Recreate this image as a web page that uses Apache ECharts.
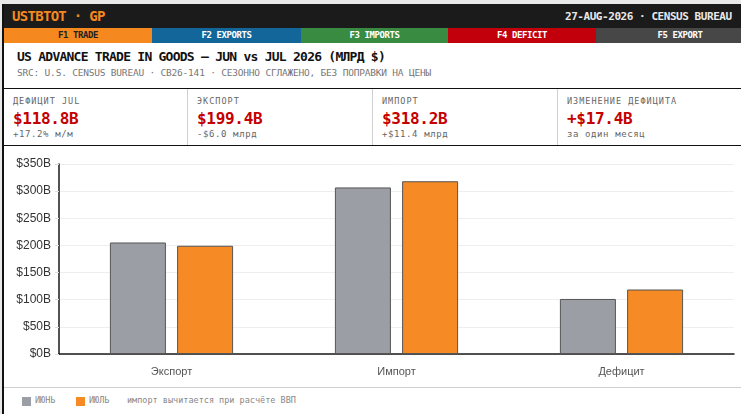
<!DOCTYPE html>
<html>
<head>
<meta charset="utf-8">
<script src="https://cdn.jsdelivr.net/npm/echarts@6/dist/echarts.min.js"></script>
<style>
  html, body { margin:0; padding:0; width:741px; height:414px; overflow:hidden; background:#e9e9e9; }
  .mono { font-family: "DejaVu Sans Mono", "Liberation Mono", monospace; }
  #wrap { position:absolute; left:2px; top:4px; width:760px; height:420px; background:#fff; border-left:2px solid #111; }
  .abs { position:absolute; white-space:nowrap; }
  #hdr { position:absolute; left:0; top:0; width:760px; height:24px; background:#1b1b1b; }
  #tabs { position:absolute; left:0; top:24px; width:760px; height:15px; }
  .tab { position:absolute; top:0; height:15px; line-height:15px; text-align:center; font-size:9px; font-weight:bold; color:#fff; letter-spacing:-0.4px; }
  #kpi { position:absolute; left:0; top:84px; width:760px; height:56px; border-top:1.5px solid #111; border-bottom:1.5px solid #111; }
  .card { position:absolute; top:0; height:56px; }
  .card .lab { position:absolute; left:9px; top:7px; font-size:8.5px; color:#666; letter-spacing:1px; }
  .card .val { position:absolute; left:9px; top:20px; font-size:16px; font-weight:bold; color:#c40000; letter-spacing:-0.3px; }
  .card .sub { position:absolute; left:9px; top:40px; font-size:9px; color:#666; letter-spacing:0.6px; }
  #chart { position:absolute; left:0; top:142px; width:737px; height:241px; }
  #foot { position:absolute; left:0; top:383px; width:760px; height:30px; border-top:1px solid #cfcfcf; }
  .sq { position:absolute; width:9px; height:9px; top:9px; }
  .ft { position:absolute; top:7px; font-size:8.5px; color:#888; }
</style>
</head>
<body>
<div id="wrap" class="mono">
  <div id="hdr">
    <div class="abs" style="left:8px; top:4px; font-size:14px; font-weight:bold; color:#f5891f; letter-spacing:-0.7px;">USTBTOT · GP</div>
    <div class="abs" style="left:561px; top:6px; font-size:11px; font-weight:bold; color:#e8e8e8; letter-spacing:-0.45px;">27-AUG-2026 · CENSUS BUREAU</div>
  </div>
  <div id="tabs">
    <div class="tab" style="left:0; width:148px; background:#f5891f; color:#222;">F1 TRADE</div>
    <div class="tab" style="left:148px; width:149px; background:#13669a;">F2 EXPORTS</div>
    <div class="tab" style="left:297px; width:147px; background:#3a8b42;">F3 IMPORTS</div>
    <div class="tab" style="left:444px; width:148px; background:#c1000c;">F4 DEFICIT</div>
    <div class="tab" style="left:592px; width:168px; background:#474747;">F5 EXPORT</div>
  </div>
  <div class="abs" style="left:13px; top:45px; font-size:13px; font-weight:bold; color:#111; letter-spacing:-0.75px;">US ADVANCE TRADE IN GOODS — JUN vs JUL 2026 (МЛРД $)</div>
  <div class="abs" style="left:13px; top:63px; font-size:9.5px; color:#777; letter-spacing:-0.2px;">SRC: U.S. CENSUS BUREAU · CB26-141 · СЕЗОННО СГЛАЖЕНО, БЕЗ ПОПРАВКИ НА ЦЕНЫ</div>
  <div id="kpi">
    <div class="card" style="left:0; width:183px; border-right:1px solid #d0d0d0;">
      <div class="lab">ДЕФИЦИТ JUL</div><div class="val">$118.8B</div><div class="sub">+17.2% м/м</div>
    </div>
    <div class="card" style="left:184px; width:184px; border-right:1px solid #d0d0d0;">
      <div class="lab">ЭКСПОРТ</div><div class="val">$199.4B</div><div class="sub">-$6.0 млрд</div>
    </div>
    <div class="card" style="left:369px; width:184px; border-right:1px solid #d0d0d0;">
      <div class="lab">ИМПОРТ</div><div class="val">$318.2B</div><div class="sub">+$11.4 млрд</div>
    </div>
    <div class="card" style="left:554px; width:200px;">
      <div class="lab">ИЗМЕНЕНИЕ ДЕФИЦИТА</div><div class="val">+$17.4B</div><div class="sub">за один месяц</div>
    </div>
  </div>
  <div id="chart"></div>
  <div id="foot">
    <div class="sq" style="left:18px; background:#9b9ea4;"></div>
    <div class="ft" style="left:31px;">ИЮНЬ</div>
    <div class="sq" style="left:72px; background:#f68a24;"></div>
    <div class="ft" style="left:85px;">ИЮЛЬ</div>
    <div class="ft" style="left:123px;">импорт вычитается при расчёте ВВП</div>
  </div>
</div>
<script>
const categories = ['Экспорт', 'Импорт', 'Дефицит'];
const seriesNames = ['ИЮНЬ', 'ИЮЛЬ'];
const junValues = [205.4, 306.8, 101.4];
const julValues = [199.4, 318.2, 118.8];
const yTicks = { min: 0, max: 350, interval: 50 };

const chart = echarts.init(document.getElementById('chart'), null, { renderer: 'canvas' });
chart.setOption({
  animation: false,
  grid: { left: 55, right: 7, top: 18, bottom: 33 },
  xAxis: {
    type: 'category',
    data: categories,
    axisLine: { lineStyle: { color: '#1a1a1a', width: 1.5 } },
    axisTick: { show: false },
    axisLabel: { color: '#555', fontSize: 11, margin: 12, fontFamily: 'Liberation Sans, Arial, sans-serif' }
  },
  yAxis: {
    type: 'value',
    min: yTicks.min, max: yTicks.max, interval: yTicks.interval,
    axisLine: { show: true, lineStyle: { color: '#1a1a1a', width: 1.5 } },
    axisTick: { show: true, length: 4, lineStyle: { color: '#ddd' } },
    axisLabel: { color: '#333', fontSize: 12, margin: 8, fontFamily: 'Liberation Sans, Arial, sans-serif',
      formatter: v => '$' + v + 'B' },
    splitLine: { lineStyle: { color: '#eeeeee', width: 1 } }
  },
  series: [
    { name: seriesNames[0], type: 'bar', data: junValues, barWidth: 56, barGap: '20%',
      itemStyle: { color: '#9b9ea4', borderColor: '#555', borderWidth: 1 } },
    { name: seriesNames[1], type: 'bar', data: julValues, barWidth: 56,
      itemStyle: { color: '#f68a24', borderColor: '#555', borderWidth: 1 } }
  ]
});
</script>
</body>
</html>
